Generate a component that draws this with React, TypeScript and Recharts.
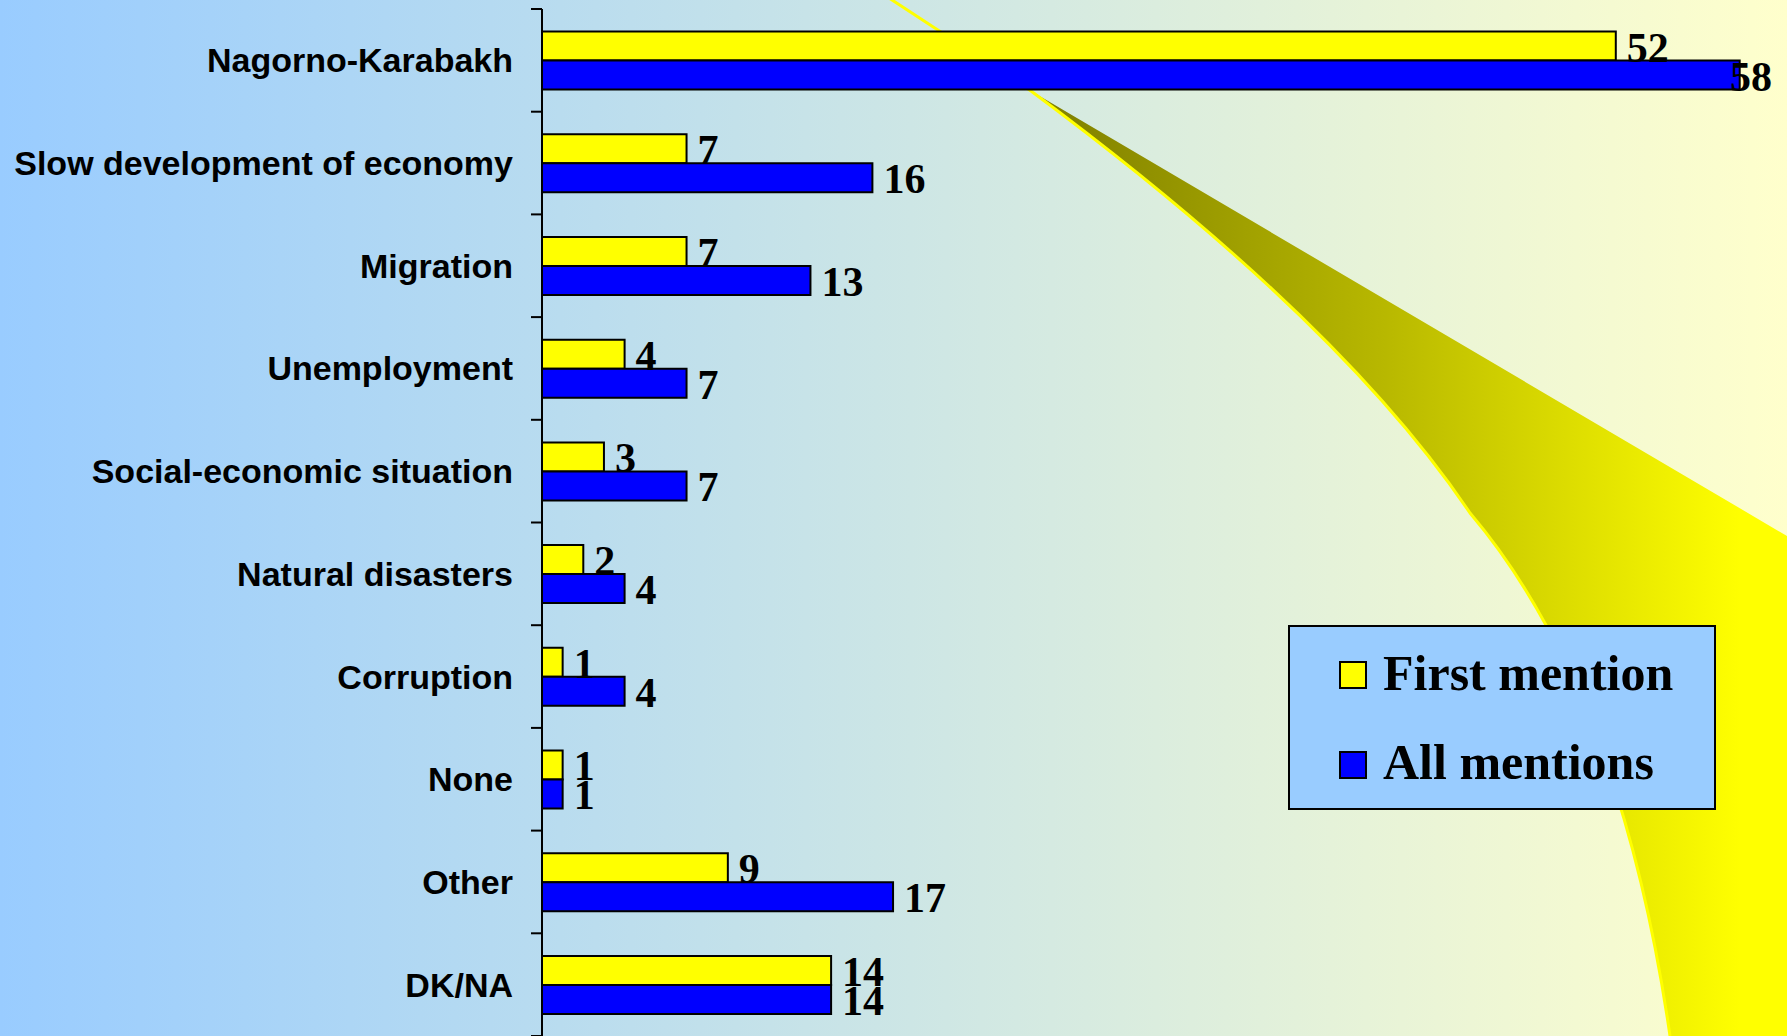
import { BarChart, Bar, XAxis, YAxis, Legend, LabelList } from "recharts";

const categories = [
  "Nagorno-Karabakh",
  "Slow development of economy",
  "Migration",
  "Unemployment",
  "Social-economic situation",
  "Natural disasters",
  "Corruption",
  "None",
  "Other",
  "DK/NA",
];
const firstMention = [52, 7, 7, 4, 3, 2, 1, 1, 9, 14];
const allMentions = [58, 16, 13, 7, 7, 4, 4, 1, 17, 14];
const seriesOrder = ["first", "all"];

const data = categories.map((name, i) => ({
  name,
  first: firstMention[i],
  all: allMentions[i],
}));

const W = 1787;
const H = 1036;
const AXIS_W = 542;
const TOP = 9;
const BAND = (H - TOP) / categories.length;

const CategoryTick = (props: any) => {
  const { y, payload, index } = props;
  const top = y - BAND / 2;
  return (
    <g>
      <line x1={AXIS_W - 11} x2={AXIS_W} y1={top} y2={top} stroke="#000" strokeWidth={2} />
      {index === categories.length - 1 && (
        <line x1={AXIS_W - 11} x2={AXIS_W} y1={top + BAND} y2={top + BAND} stroke="#000" strokeWidth={2} />
      )}
      <text
        x={AXIS_W - 29}
        y={y + 12}
        textAnchor="end"
        fontFamily="'Liberation Sans', Arial, sans-serif"
        fontWeight="bold"
        fontSize={34}
        fill="#000"
      >
        {payload.value}
      </text>
    </g>
  );
};

// value label right of the bar, pushed back inside the chart if it would run off the edge
const ValueLabel = (props: any) => {
  const { x, y, width, height, value } = props;
  const fs = 42;
  const textW = String(value).length * fs * 0.5;
  const lx = Math.min(x + width + 11, W - 15 - textW);
  return (
    <text
      x={lx}
      y={y + height + 1}
      fontFamily="'Liberation Serif', 'Times New Roman', serif"
      fontWeight="bold"
      fontSize={fs}
      fill="#000"
    >
      {value}
    </text>
  );
};

const LegendBox = (props: any) => {
  const items = [...(props.payload || [])].sort(
    (a: any, b: any) => seriesOrder.indexOf(a.dataKey) - seriesOrder.indexOf(b.dataKey)
  );
  return (
    <div
      style={{
        position: "relative",
        width: 428,
        height: 185,
        boxSizing: "border-box",
        border: "2px solid #000",
        background: "#99ccff",
      }}
    >
      {items.map((it: any, i: number) => (
        <div key={i}>
          <div
            style={{
              position: "absolute",
              left: 49,
              top: 34 + i * 90,
              width: 28,
              height: 28,
              boxSizing: "border-box",
              border: "2px solid #000",
              background: it.color,
            }}
          />
          <div
            style={{
              position: "absolute",
              left: 93,
              top: 16 + i * 89,
              fontFamily: "'Liberation Serif', 'Times New Roman', serif",
              fontWeight: "bold",
              fontSize: 50,
              lineHeight: "60px",
              color: "#000",
              whiteSpace: "nowrap",
            }}
          >
            {it.value}
          </div>
        </div>
      ))}
    </div>
  );
};

export default function App() {
  return (
    <div
      style={{
        position: "relative",
        width: W,
        height: H,
        overflow: "hidden",
        background: "linear-gradient(to right, #99ccff, #ffffcc)",
      }}
    >
      <style>{"body{margin:0}"}</style>
      <svg width={W} height={H} style={{ position: "absolute", left: 0, top: 0 }}>
        <defs>
          <linearGradient id="swoosh" gradientUnits="userSpaceOnUse" x1={1031} y1={0} x2={1740} y2={0}>
            <stop offset="0" stopColor="#7d7d00" />
            <stop offset="0.5" stopColor="#b8b800" />
            <stop offset="1" stopColor="#ffff00" />
          </linearGradient>
        </defs>
        <path
          d="M1031,91 Q1340,320 1470,513 Q1620,690 1670,1036 L1787,1036 L1787,536 Z"
          fill="url(#swoosh)"
        />
        <path
          d="M889,-2 L1031,91 Q1340,320 1470,513 Q1620,690 1670,1036"
          fill="none"
          stroke="#ffff00"
          strokeWidth={3}
        />
      </svg>
      <div style={{ position: "absolute", left: 0, top: 0 }}>
        <BarChart
          width={W}
          height={H}
          data={data}
          layout="vertical"
          margin={{ top: TOP, right: 6, bottom: 0, left: 0 }}
          barCategoryGap="22%"
          barGap={0}
        >
          <XAxis type="number" domain={[0, 60]} hide />
          <YAxis
            type="category"
            dataKey="name"
            width={AXIS_W}
            axisLine={{ stroke: "#000", strokeWidth: 2 }}
            tickLine={false}
            tick={<CategoryTick />}
            interval={0}
          />
          <Legend
            layout="horizontal"
            verticalAlign="middle"
            align="center"
            content={<LegendBox />}
            wrapperStyle={{ position: "absolute", left: 1288, top: 625, width: 428, height: 185 }}
          />
          <Bar dataKey="first" name="First mention" fill="#ffff00" stroke="#000" strokeWidth={2} isAnimationActive={false}>
            <LabelList dataKey="first" content={<ValueLabel />} />
          </Bar>
          <Bar dataKey="all" name="All mentions" fill="#0000ff" stroke="#000" strokeWidth={2} isAnimationActive={false}>
            <LabelList dataKey="all" content={<ValueLabel />} />
          </Bar>
        </BarChart>
      </div>
    </div>
  );
}
